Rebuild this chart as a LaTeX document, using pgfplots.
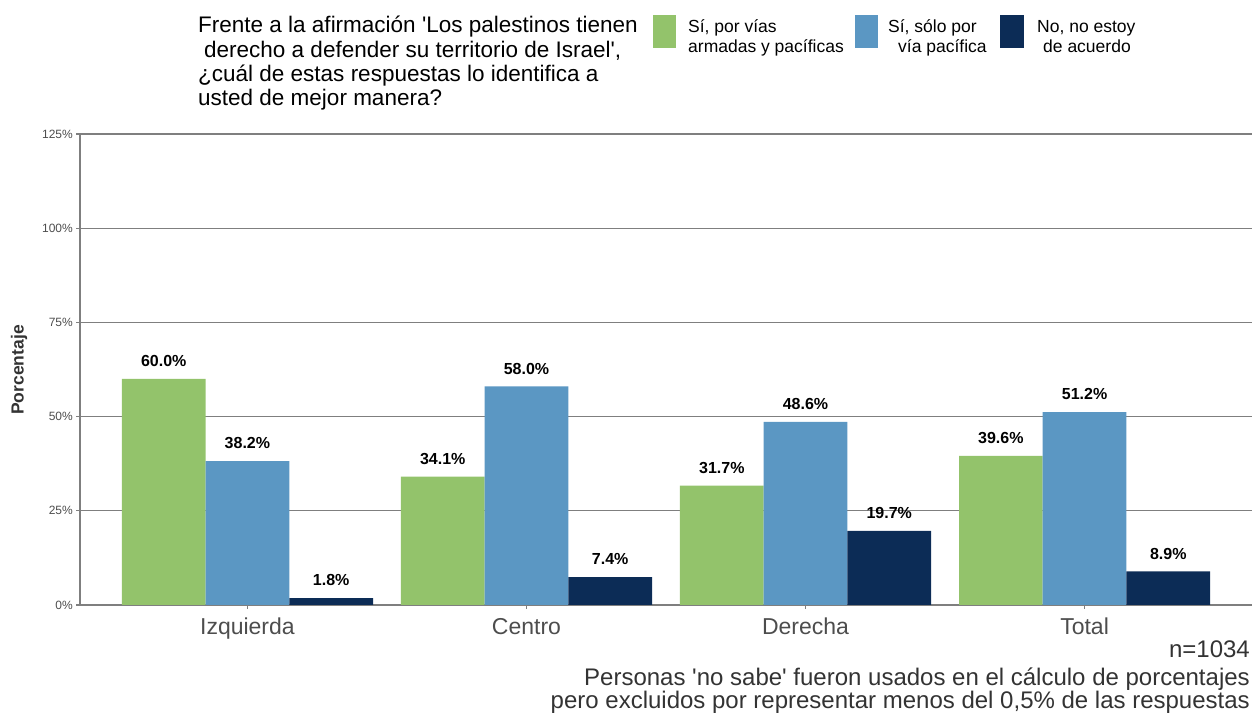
\documentclass[border=0pt]{standalone}
\usepackage{pgfplots}
\pgfplotsset{compat=1.18}
\usepackage{fontspec}
\setmainfont{Liberation Sans}
\definecolor{cgreen}{HTML}{93C36B}
\definecolor{cblue}{HTML}{5B97C3}
\definecolor{cnavy}{HTML}{0C2C56}
\definecolor{gridc}{HTML}{7F7F7F}
\definecolor{tickc}{HTML}{4D4D4D}
\definecolor{darkc}{HTML}{333333}
\begin{document}
\begin{tikzpicture}[x=1bp,y=1bp]
\path[use as bounding box] (0,0) rectangle (1255,715);
\begin{axis}[
  scale only axis, width=1172bp, height=471bp,
  at={(80bp,110bp)}, anchor=south west,
  ybar=0pt, bar width=0.3,
  xmin=-0.6, xmax=3.6, ymin=0, ymax=125,
  xtick={0,1,2,3}, xticklabels={Izquierda,Centro,Derecha,Total},
  ytick={0,25,50,75,100,125},
  yticklabels={0\%,25\%,50\%,75\%,100\%,125\%},
  axis x line*=bottom, axis y line*=left,
  axis line style={-, gridc, line width=1.2bp},
  ymajorgrids, major grid style={gridc, line width=1.1bp},
  tick align=outside, major tick length=4bp,
  tick style={gridc, line width=1.1bp},
  x tick label style={font=\fontsize{23bp}{26bp}\selectfont, text=tickc, anchor=base, inner sep=0pt, yshift=-26bp},
  y tick label style={font=\fontsize{12bp}{14bp}\selectfont, text=tickc, anchor=east, inner sep=0pt, xshift=-3bp},
  nodes near coords={\pgfmathprintnumber[fixed,fixed zerofill,precision=1,assume math mode=true]{\pgfplotspointmeta}\%},
  every node near coord/.append style={font=\bfseries\fontsize{16bp}{18bp}\selectfont, text=black, inner sep=0pt, yshift=12bp},
]
\addplot[draw=none, fill=cgreen] coordinates {(0,60.0) (1,34.1) (2,31.7) (3,39.6)};
\addplot[draw=none, fill=cblue] coordinates {(0,38.2) (1,58.0) (2,48.6) (3,51.2)};
\addplot[draw=none, fill=cnavy] coordinates {(0,1.8) (1,7.4) (2,19.7) (3,8.9)};
\end{axis}
% y label
\node[rotate=90, font=\bfseries\fontsize{17.5bp}{20bp}\selectfont, text=darkc, inner sep=0pt] at (19,345) {Porcentaje};
% title
\begin{scope}[every node/.style={anchor=base west, inner sep=0pt, font=\fontsize{22.5bp}{24bp}\selectfont, text=black}]
\node at (198,682.3) {Frente a la afirmación \textquotesingle Los palestinos tienen};
\node at (204,657.7) {derecho a defender su territorio de Israel\textquotesingle,};
\node at (198,633.3) {¿cuál de estas respuestas lo identifica a};
\node at (198,609) {usted de mejor manera?};
\end{scope}
% legend
\fill[cgreen] (653,667) rectangle (676,700);
\fill[cblue] (855,667) rectangle (878,700);
\fill[cnavy] (1000,667) rectangle (1024,700);
\begin{scope}[every node/.style={anchor=base west, inner sep=0pt, font=\fontsize{17.5bp}{20bp}\selectfont, text=black}]
\node at (688,682) {Sí, por vías};
\node at (688,662) {armadas y pacíficas};
\node at (888,682) {Sí, sólo por};
\node at (898,662) {vía pacífica};
\node at (1037,682) {No, no estoy};
\node at (1043,662) {de acuerdo};
\end{scope}
% caption
\begin{scope}[every node/.style={anchor=base east, inner sep=0pt, font=\fontsize{24bp}{24bp}\selectfont, text=darkc}]
\node at (1250,57) {n=1034};
\node at (1250,29.3) {Personas \textquotesingle no sabe\textquotesingle\ fueron usados en el cálculo de porcentajes};
\node at (1250,6) {pero excluidos por representar menos del 0,5\% de las respuestas};
\end{scope}
\end{tikzpicture}
\end{document}
